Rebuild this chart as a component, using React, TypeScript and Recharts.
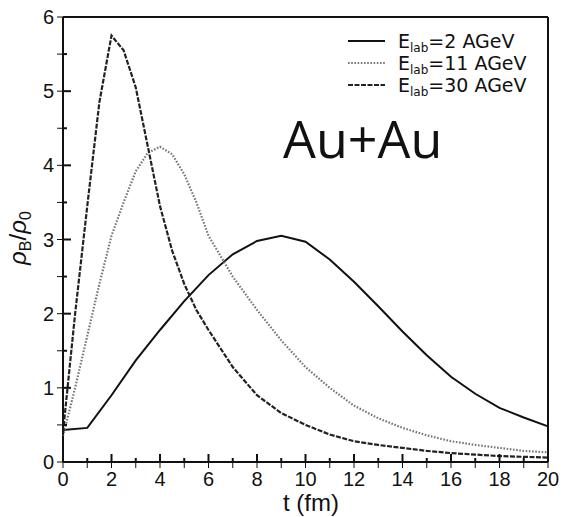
import React from 'react';
import { LineChart, Line, XAxis, YAxis, ReferenceLine } from 'recharts';

// t (fm) sample points and rho_B/rho_0 for each beam energy
const tLow = [0, 1, 2, 3, 4, 5, 6, 7, 8, 9, 10, 11, 12, 13, 14, 15, 16, 17, 18, 19, 20];
const rhoLow = [0.43, 0.46, 0.9, 1.37, 1.78, 2.17, 2.52, 2.8, 2.98, 3.05, 2.97, 2.73, 2.43, 2.1, 1.76, 1.44, 1.15, 0.92, 0.73, 0.6, 0.48];

const tMid = [0, 0.5, 1, 1.5, 2, 2.5, 3, 3.5, 4, 4.5, 5, 5.5, 6, 7, 8, 9, 10, 11, 12, 13, 14, 15, 16, 17, 18, 19, 20];
const rhoMid = [0.35, 1.0, 1.7, 2.4, 3.05, 3.5, 3.92, 4.17, 4.25, 4.15, 3.88, 3.5, 3.05, 2.5, 2.05, 1.64, 1.28, 1.0, 0.76, 0.59, 0.46, 0.36, 0.28, 0.23, 0.19, 0.15, 0.13];

const tHigh = [0, 0.5, 1, 1.5, 2, 2.5, 3, 3.5, 4, 4.5, 5, 5.5, 6, 7, 8, 9, 10, 11, 12, 13, 14, 15, 16, 17, 18, 19, 20];
const rhoHigh = [0.4, 2.0, 3.45, 4.85, 5.75, 5.55, 5.05, 4.25, 3.45, 2.85, 2.4, 2.05, 1.78, 1.28, 0.9, 0.66, 0.5, 0.37, 0.28, 0.23, 0.19, 0.15, 0.12, 0.1, 0.08, 0.07, 0.06];

const xTicks = [0, 1, 2, 3, 4, 5, 6, 7, 8, 9, 10, 11, 12, 13, 14, 15, 16, 17, 18, 19, 20];
const yTicks = [0, 0.5, 1, 1.5, 2, 2.5, 3, 3.5, 4, 4.5, 5, 5.5, 6];
const energies = ['2', '11', '30'];

// one table keyed by t, gaps where a series has no sample
const allT = Array.from(new Set([...tLow, ...tMid, ...tHigh])).sort((a, b) => a - b);
const table = allT.map((t) => ({
  t,
  low: tLow.includes(t) ? rhoLow[tLow.indexOf(t)] : null,
  mid: tMid.includes(t) ? rhoMid[tMid.indexOf(t)] : null,
  high: tHigh.includes(t) ? rhoHigh[tHigh.indexOf(t)] : null,
}));

const series = [
  { key: 'low', energy: energies[0], stroke: '#111', dash: undefined, width: 2 },
  { key: 'mid', energy: energies[1], stroke: '#777', dash: '1.6 1.6', width: 2.2 },
  { key: 'high', energy: energies[2], stroke: '#222', dash: '5 1.5', width: 2.2 },
];

const INK = '#111';
const FONT = 'Liberation Sans, Arial, sans-serif';
// recharts default tickSize (6) + tickMargin (2)
const GAP = 8;

const isMajor = (v: number, step: number) => Math.abs(v / step - Math.round(v / step)) < 1e-6;

function BottomTick(props: any) {
  const { x, y, payload } = props;
  const major = isMajor(payload.value, 2);
  const axisY = y - GAP;
  const len = major ? 8 : 4;
  return (
    <g>
      <rect x={x - 1} y={axisY - len} width={2} height={len} fill={INK} />
      {major && (
        <text x={x} y={axisY + 24} textAnchor="middle" fontFamily={FONT} fontSize={20} fill={INK}>
          {payload.value}
        </text>
      )}
    </g>
  );
}

function LeftTick(props: any) {
  const { x, y, payload } = props;
  const major = isMajor(payload.value, 1);
  const axisX = x + GAP;
  return (
    <g>
      <rect x={axisX} y={y - 1} width={major ? 8 : 4} height={2} fill={INK} />
      {major && (
        <text x={axisX - 9} y={y + 7} textAnchor="end" fontFamily={FONT} fontSize={20} fill={INK}>
          {payload.value}
        </text>
      )}
    </g>
  );
}

// titles, legend and the Au+Au note
function Overlay() {
  return (
    <svg width={565} height={517} style={{ position: 'absolute', left: 0, top: 0, pointerEvents: 'none' }}>
      <text transform="translate(26,238) rotate(-90)" textAnchor="middle" fontFamily={FONT} fontSize={24} fill={INK}>
        <tspan fontStyle="italic">ρ</tspan>
        <tspan fontSize={16} dy={5}>B</tspan>
        <tspan dy={-5}>/</tspan>
        <tspan fontStyle="italic">ρ</tspan>
        <tspan fontSize={16} dy={5}>0</tspan>
      </text>
      <text x={311} y={511} textAnchor="middle" fontFamily={FONT} fontSize={24} fill={INK}>
        t (fm)
      </text>
      {series.map((s, i) => {
        const y = 41 + i * 22;
        return (
          <g key={s.key}>
            <line x1={348} x2={385} y1={y} y2={y} stroke={s.stroke} strokeWidth={s.width} strokeDasharray={s.dash} />
            <text x={398} y={y + 7} fontFamily="DejaVu Sans, sans-serif" fontSize={19} fill={INK}>
              E<tspan fontSize={12} dy={4}>lab</tspan>
              <tspan dy={-4}>={s.energy} AGeV</tspan>
            </text>
          </g>
        );
      })}
      <text x={283} y={158} fontFamily="Open Sans, sans-serif" fontSize={52} fill={INK}>
        Au+Au
      </text>
    </svg>
  );
}

export default function App() {
  return (
    <div style={{ position: 'absolute', left: 0, top: 0, width: 565, height: 517 }}>
      <LineChart width={565} height={517} data={table} margin={{ top: 17, right: 17, bottom: 0, left: 0 }}>
        <XAxis
          dataKey="t"
          type="number"
          domain={[0, 20]}
          ticks={xTicks}
          interval={0}
          height={55}
          tick={<BottomTick />}
          stroke={INK}
        />
        <YAxis
          type="number"
          domain={[0, 6]}
          ticks={yTicks}
          interval={0}
          width={63}
          tick={<LeftTick />}
          stroke={INK}
        />
        <ReferenceLine x={0} stroke={INK} strokeWidth={2} />
        <ReferenceLine x={20} stroke={INK} strokeWidth={2} />
        <ReferenceLine y={0} stroke={INK} strokeWidth={2} />
        <ReferenceLine y={6} stroke={INK} strokeWidth={2} />
        {series.map((s) => (
          <Line
            key={s.key}
            dataKey={s.key}
            type="linear"
            connectNulls
            stroke={s.stroke}
            strokeWidth={s.width}
            strokeDasharray={s.dash}
            dot={false}
            activeDot={false}
            isAnimationActive={false}
          />
        ))}
      </LineChart>
      <Overlay />
    </div>
  );
}
